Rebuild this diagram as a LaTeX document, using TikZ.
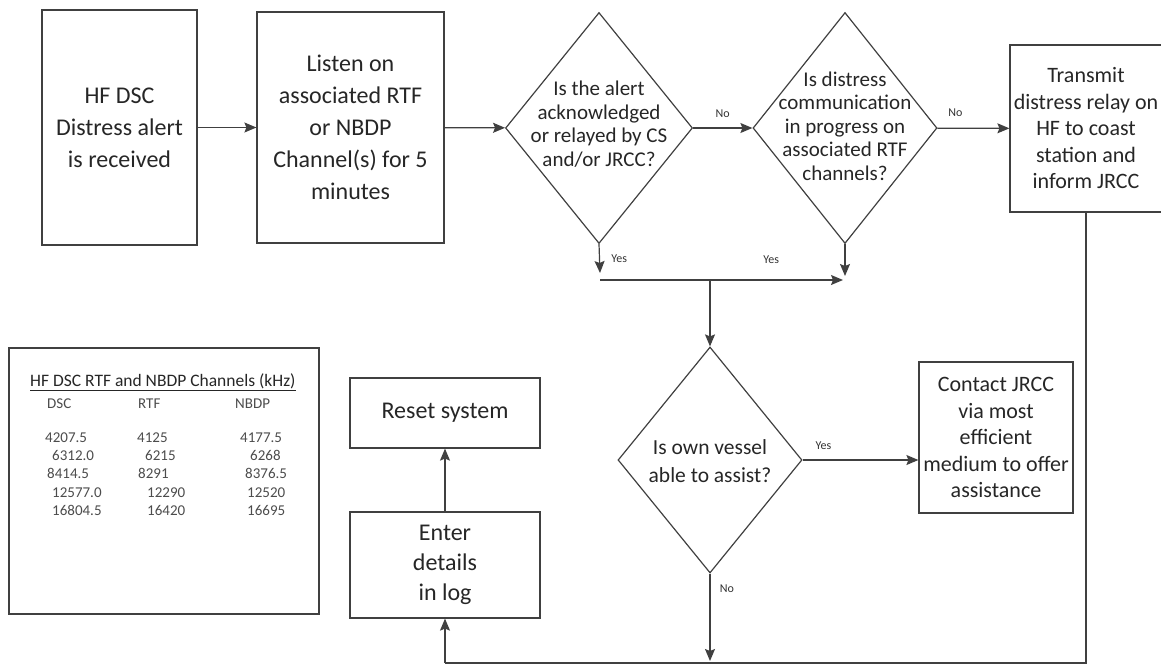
\documentclass[tikz,border=0pt]{standalone}
\usepackage{fontspec}
\setmainfont{Carlito}
\usepackage{tikz}
\usetikzlibrary{shapes,arrows.meta,positioning}

\begin{document}
\begin{tikzpicture}[
    x=1pt, y=-1pt,
    mybox/.style={draw=black!75, line width=1.2pt, align=center, text=black!85, inner sep=2pt,
        font=\fontsize{24}{32}\selectfont},
    smallbox/.style={mybox, font=\fontsize{22}{26.5}\selectfont},
    decision/.style={draw=black!75, line width=1.2pt, diamond, inner sep=0pt},
    qtext/.style={align=center, text=black!85, font=\fontsize{21}{23.5}\selectfont},
    lbl/.style={text=black!80, font=\fontsize{12}{14}\selectfont},
    cell/.style={anchor=base west, inner sep=0pt, text=black!70, font=\fontsize{15}{18}\selectfont},
    myline/.style={draw=black!75, line width=1.2pt},
    myedge/.style={myline, -{Stealth[length=12pt,width=10pt,inset=2pt]}}
]
\useasboundingbox (0,0) rectangle (1161,664);

% top row
\node[mybox, minimum width=155pt, minimum height=235pt] (alert) at (119.5,127.5) {HF DSC\\Distress alert\\is received};
\node[mybox, minimum width=187pt, minimum height=231pt] (listen) at (350.5,127.5) {Listen on\\associated RTF\\or NBDP\\Channel(s) for 5\\minutes};
\node[decision, minimum width=187pt, minimum height=231pt] (ack) at (599,128) {};
\node[qtext] at (599,124) {Is the alert\\acknowledged\\or relayed by CS\\and/or JRCC?};
\node[decision, minimum width=184pt, minimum height=231pt] (prog) at (845,128) {};
\node[qtext] at (845,126) {Is distress\\communication\\in progress on\\associated RTF\\channels?};
\node[smallbox, minimum width=152pt, minimum height=167pt] (relay) at (1086,128.5) {Transmit\\distress relay on\\HF to coast\\station and\\inform JRCC};

% lower part
\node[decision, minimum width=184pt, minimum height=226pt] (assist) at (710,460) {};
\node[qtext, font=\fontsize{21.5}{28}\selectfont] at (710,461) {Is own vessel\\able to assist?};
\node[smallbox, minimum width=154pt, minimum height=151pt] (contact) at (996,437.5) {Contact JRCC\\via most\\efficient\\medium to offer\\assistance};
\node[mybox, minimum width=190pt, minimum height=70pt] (reset) at (445,413) {Reset system};
\node[mybox, minimum width=190pt, minimum height=106pt, font=\fontsize{24}{30}\selectfont] (enter) at (445,565) {Enter\\details\\in log};

% channel table
\node[draw=black!75, line width=1.2pt, minimum width=310pt, minimum height=266pt] (chan) at (164,481) {};
\node[cell, text=black!85, font=\fontsize{17.5}{20}\selectfont] (chanhead) at (30,386) {\underline{HF DSC RTF and NBDP Channels (kHz)}};
\node[cell] (hdsc) at (47,408) {DSC};
\node[cell] (hrtf) at (138,408) {RTF};
\node[cell] (hnbdp) at (235,408) {NBDP};
\node[cell] at (45,442) {4207.5};   \node[cell] at (137,442) {4125};  \node[cell] at (240,442) {4177.5};
\node[cell] at (52,460) {6312.0};   \node[cell] at (145,460) {6215};  \node[cell] at (250,460) {6268};
\node[cell] at (47,478) {8414.5};   \node[cell] at (138,478) {8291};  \node[cell] at (245,478) {8376.5};
\node[cell] at (52,497) {12577.0};  \node[cell] at (147,497) {12290}; \node[cell] at (247,497) {12520};
\node[cell] at (52,515) {16804.5};  \node[cell] at (147,515) {16420}; \node[cell] at (247,515) {16695};

% join points
\coordinate (ackyes) at (600,273);
\coordinate (progyes) at (845,276);
\coordinate (barL) at (600,280);
\coordinate (barR) at (843,280);
\coordinate (barM) at (710,280);
\coordinate (assistno) at (710,661);
\coordinate (botL) at (445,663);

\draw[myedge] (alert) -- (listen);
\draw[myedge] (listen) -- (ack);
\draw[myedge] (ack) -- (prog) node[lbl, midway, above=6pt] {No};
\draw[myedge] (prog) -- (relay) node[lbl, pos=0.25, above=8pt] {No};
\draw[myedge] (ack.south) -- (ackyes) node[lbl, midway, right=8pt] {Yes};
\draw[myedge] (prog.south) -- (progyes) node[lbl, midway, left=62pt] {Yes};
\draw[myedge] (barL) -- (barR);
\draw[myedge] (barM) -- (assist.north);
\draw[myedge] (assist.east) -- (assist.east -| contact.west) node[lbl, pos=0.18, above=6pt] {Yes};
\draw[myedge] (assist.south) -- (assistno) node[lbl, pos=0.17, right=6pt] {No};
\draw[myline] (relay.south) -- (relay.south |- botL) -- (botL);
\draw[myedge] (botL) -- (enter.south);
\draw[myedge] (enter) -- (reset);
\end{tikzpicture}
\end{document}
